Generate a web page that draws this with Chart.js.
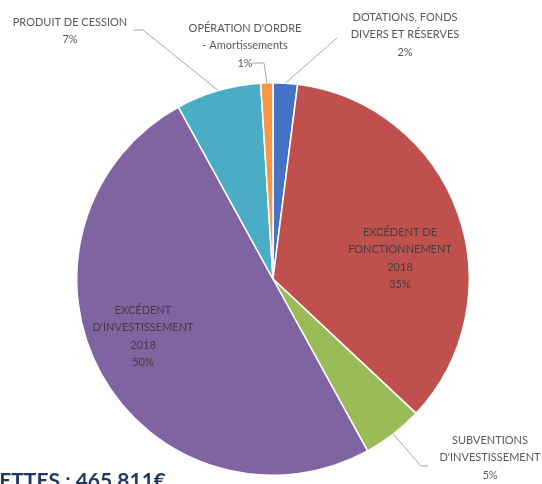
<!DOCTYPE html>
<html>
<head>
<meta charset="utf-8">
<script src="https://cdn.jsdelivr.net/npm/chart.js@4"></script>
<style>
  html, body { margin: 0; padding: 0; background: #fff; }
  #wrap { width: 542px; height: 484px; }
</style>
</head>
<body>
<div id="wrap"><canvas id="pie" width="542" height="484"></canvas></div>
<script>
// slices, clockwise from 12 o'clock
const categories = [
  ["DOTATIONS, FONDS", "DIVERS ET RÉSERVES"],
  ["EXCÉDENT DE", "FONCTIONNEMENT", "2018"],
  ["SUBVENTIONS", "D'INVESTISSEMENT"],
  ["EXCÉDENT", "D'INVESTISSEMENT", "2018"],
  ["PRODUIT DE CESSION"],
  ["OPÉRATION D'ORDRE", "- Amortissements"]
];
const shares = [2, 35, 5, 50, 7, 1];
const sliceColors = ["#4472C4", "#C0504D", "#9BBB59", "#8064A2", "#4BACC6", "#F79646"];
const totalLabel = "RECETTES : 465 811€";

// where each label sits (center x, first line y), and the elbow of its leader line
const labelLayout = [
  { x: 405, y: 17, inside: false, elbow: [[337, 38]] },
  { x: 400, y: 232, inside: true },
  { x: 490, y: 440, inside: false, elbow: [[428, 466], [421, 466]] },
  { x: 143, y: 310, inside: true },
  { x: 70, y: 22, inside: false, elbow: [[133, 30], [143, 30]] },
  { x: 245, y: 28, inside: false, elbow: [[252, 63], [264, 63]] }
];

const labelsPlugin = {
  id: "sliceLabels",
  afterDatasetsDraw(chart) {
    const ctx = chart.ctx;
    const arcs = chart.getDatasetMeta(0).data;
    const total = shares.reduce((a, b) => a + b, 0);
    ctx.save();
    arcs.forEach((arc, i) => {
      const lay = labelLayout[i];
      const p = arc.getProps(["x", "y", "startAngle", "endAngle", "outerRadius"], true);
      // leader line
      if (!lay.inside) {
        const mid = (p.startAngle + p.endAngle) / 2;
        const ax = p.x + Math.cos(mid) * p.outerRadius;
        const ay = p.y + Math.sin(mid) * p.outerRadius;
        ctx.strokeStyle = "#a6a6a6";
        ctx.lineWidth = 1;
        ctx.beginPath();
        ctx.moveTo(lay.elbow[0][0], lay.elbow[0][1]);
        lay.elbow.slice(1).forEach(pt => ctx.lineTo(pt[0], pt[1]));
        ctx.lineTo(ax, ay);
        ctx.stroke();
      }
      // text
      const lines = categories[i].concat([Math.round(shares[i] / total * 100) + "%"]);
      ctx.font = "11px Lato";
      ctx.fillStyle = lay.inside ? "#404040" : "#595959";
      ctx.textAlign = "center";
      ctx.textBaseline = "middle";
      lines.forEach((t, k) => ctx.fillText(t, lay.x, lay.y + k * 17.5));
    });
    // total amount, cut off at the left edge
    ctx.font = "bold 21px Lato";
    ctx.fillStyle = "#1F3864";
    ctx.textAlign = "right";
    ctx.textBaseline = "alphabetic";
    ctx.fillText(totalLabel, 166, 488);
    ctx.restore();
  }
};

new Chart(document.getElementById("pie").getContext("2d"), {
  type: "pie",
  data: {
    labels: categories.map(c => c.join(" ")),
    datasets: [
      {
        data: shares,
        backgroundColor: sliceColors,
        borderColor: "#ffffff",
        borderWidth: 1.5
      }
    ]
  },
  options: {
    responsive: false,
    animation: false,
    layout: { padding: { left: 76, right: 72, top: 82, bottom: 8 } },
    plugins: {
      legend: { display: false },
      tooltip: { enabled: false }
    }
  },
  plugins: [labelsPlugin]
});
</script>
</body>
</html>
